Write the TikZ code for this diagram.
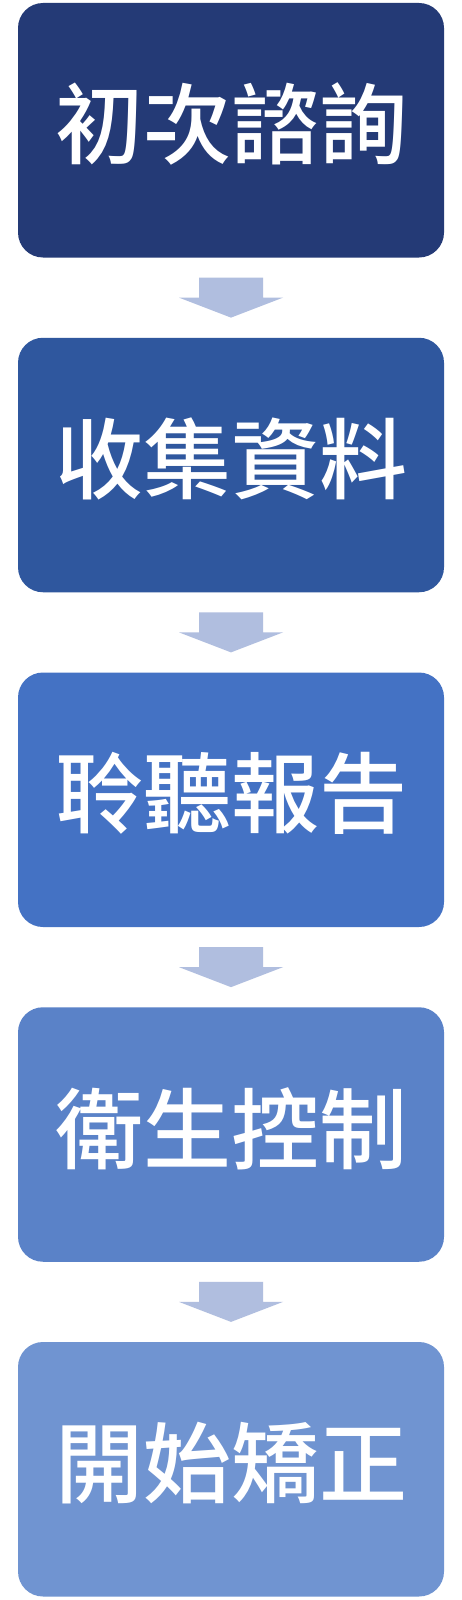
\documentclass[tikz,border=0pt]{standalone}
\usepackage{fontspec}
\usetikzlibrary{calc}
\newfontfamily\cjk{Noto Sans CJK TC Medium}
\definecolor{cA}{HTML}{243A76}
\definecolor{cB}{HTML}{2F579E}
\definecolor{cC}{HTML}{4472C4}
\definecolor{cD}{HTML}{5A82C8}
\definecolor{cE}{HTML}{7094D1}
\definecolor{arr}{HTML}{B0BEDF}
\begin{document}
\begin{tikzpicture}[x=1pt,y=1pt,
  stepbox/.style={rectangle, rounded corners=25pt, minimum width=426pt, minimum height=254.5pt, inner sep=0pt},
  steptext/.style={text=white, inner sep=0pt, anchor=center, font=\cjk\fontsize{88}{88}\selectfont},
  downarrow/.style={fill=arr}]
\useasboundingbox (0,0) rectangle (462,-1600);
\fill[white] (0,0) rectangle (462,-1600);
\foreach \i/\c/\t in {0/cA/初次諮詢,1/cB/收集資料,2/cC/聆聽報告,3/cD/衛生控制,4/cE/開始矯正}{
  \pgfmathsetmacro{\yc}{-(3+334.75*\i+127.25)}
  \node[stepbox, fill=\c] (b\i) at (231,\yc) {};
  \node[steptext] (t\i) at (231,\yc+6) {\t};
}
\foreach \i [evaluate=\i as \j using int(\i+1)] in {0,1,2,3}{
  \coordinate (m\i) at ($(b\i.south)!0.5!(b\j.north)$);
  \fill[downarrow] ($(m\i)+(-32,20)$) -- ($(m\i)+(32,20)$) -- ($(m\i)+(32,0)$) -- ($(m\i)+(52,0)$)
     -- ($(m\i)+(0,-20)$) -- ($(m\i)+(-52,0)$) -- ($(m\i)+(-32,0)$) -- cycle;
}
\end{tikzpicture}
\end{document}
